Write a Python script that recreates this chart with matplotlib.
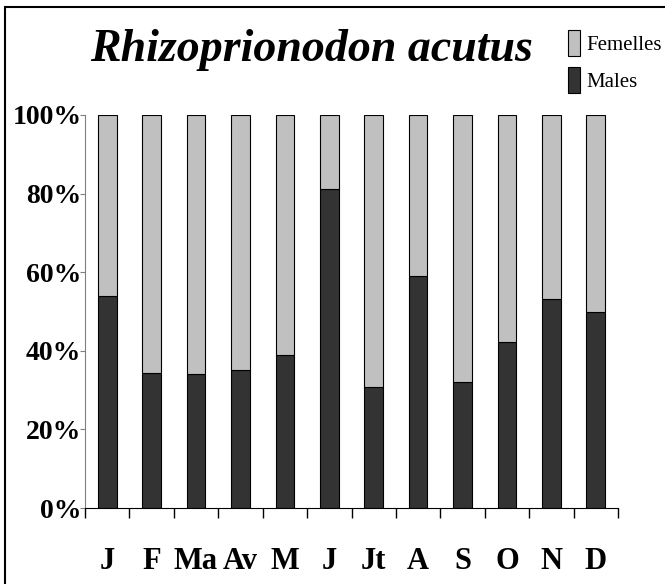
import matplotlib.pyplot as plt
from matplotlib.patches import Patch, Rectangle
import numpy as np

# ------------------ Data ------------------
months = ["J", "F", "Ma", "Av", "M", "J", "Jt", "A", "S", "O", "N", "D"]
males = [54.0, 34.3, 34.2, 35.1, 38.9, 81.1, 30.9, 59.1, 32.1, 42.2, 53.2, 49.9]
femelles = [100 - m for m in males]
ytick_vals = [0, 20, 40, 60, 80, 100]
ytick_labels = ["0%", "20%", "40%", "60%", "80%", "100%"]
# ------------------------------------------

MALE_C = "#333333"
FEM_C = "#c0c0c0"
FONT = "Liberation Serif"

fig = plt.figure(figsize=(6.65, 5.84), dpi=100)
ax = fig.add_axes([85 / 665, 1 - 508 / 584, 533 / 665, 393 / 584])

x = np.arange(len(months))
ax.bar(x, males, width=0.42, color=MALE_C, edgecolor="black", linewidth=0.8)
ax.bar(x, femelles, width=0.42, bottom=males, color=FEM_C,
       edgecolor="black", linewidth=0.8)

ax.set_xlim(-0.5, len(months) - 0.5)
ax.set_ylim(0, 100)

# y axis
ax.set_yticks(ytick_vals)
ax.set_yticklabels(ytick_labels, fontfamily=FONT, fontweight="bold", fontsize=20)
ax.tick_params(axis="y", length=3.6, color="#808080", pad=-1)

# x axis: labels at centres, ticks at boundaries
ax.set_xticks(x)
ax.set_xticklabels(months, fontfamily=FONT, fontweight="bold", fontsize=22)
ax.tick_params(axis="x", which="major", length=0, pad=28)
ax.set_xticks(np.arange(-0.5, len(months)), minor=True)
ax.tick_params(axis="x", which="minor", length=7, color="black", width=1)

for s in ["top", "right"]:
    ax.spines[s].set_visible(False)
ax.spines["left"].set_color("#808080")
ax.spines["bottom"].set_color("black")

# title
fig.text(312 / 665, 1 - 50 / 584, "Rhizoprionodon acutus", ha="center", va="center",
         fontfamily=FONT, fontweight="bold", fontstyle="italic", fontsize=33)

# legend
handles = [Patch(facecolor=FEM_C, edgecolor="black", linewidth=0.8),
           Patch(facecolor=MALE_C, edgecolor="black", linewidth=0.8)]
fig.legend(handles, ["Femelles", "Males"], loc="upper left",
           bbox_to_anchor=(560 / 665, 1 - 22 / 584), frameon=False,
           handlelength=0.55, handleheight=1.5, handletextpad=0.3,
           labelspacing=0.55, borderaxespad=0,
           prop={"family": FONT, "size": 15})

# outer frame
fig.patches.append(Rectangle((5 / 665, -0.05), 1.0, 1 - 7 / 584 + 0.05,
                             transform=fig.transFigure, fill=False,
                             edgecolor="black", linewidth=1.5))

fig.savefig("out.png", dpi=100)
